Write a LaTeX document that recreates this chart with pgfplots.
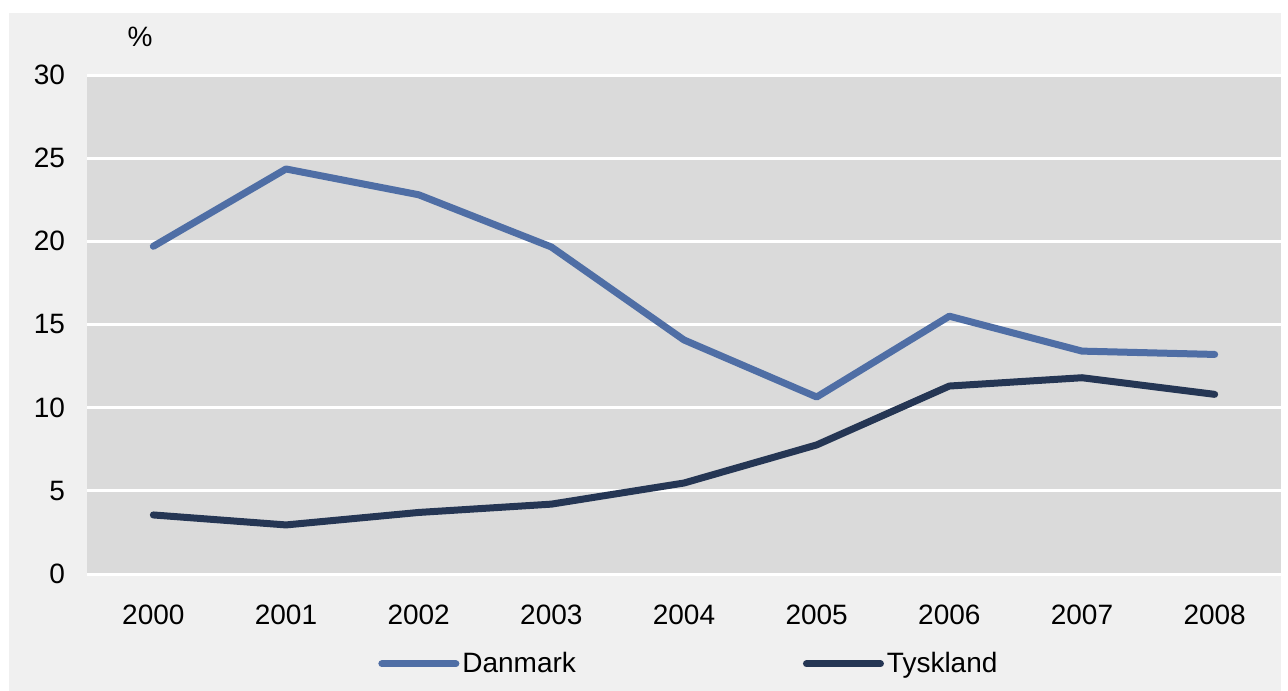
\documentclass[border=0pt]{standalone}
\usepackage{pgfplots}
\pgfplotsset{compat=1.18}
\usepackage{fontspec}
\setmainfont{Liberation Sans}
\definecolor{outerbg}{HTML}{F0F0F0}
\definecolor{plotbg}{HTML}{DADADA}
\definecolor{dk}{HTML}{4F6EA5}
\definecolor{ty}{HTML}{253654}
\begin{document}
\begin{tikzpicture}
\fill[white] (-43.5bp,-58.5bp) rectangle (600.5bp,287bp);
\fill[outerbg] (-39bp,-58.5bp) rectangle (597bp,280.5bp);
\begin{axis}[
  at={(0,0)}, anchor=south west,
  scale only axis, width=597bp, height=249.5bp,
  xmin=-0.5, xmax=8.5, ymin=0, ymax=30,
  xtick={0,...,8},
  xticklabels={2000,2001,2002,2003,2004,2005,2006,2007,2008},
  ytick={0,5,...,30},
  axis background/.style={fill=plotbg},
  axis line style={draw=none},
  major tick length=0pt,
  ymajorgrids, grid style={white, line width=1.5bp},
  tick label style={font=\fontsize{14bp}{16bp}\selectfont, text=black},
  /pgf/number format/assume math mode=true,
  yticklabel style={xshift=-7.5bp},
  xticklabel style={yshift=-12bp},
  clip=false,
  legend columns=2,
  legend style={draw=none, fill=none, at={(rel axis cs:0.2437,-0.18)}, anchor=west,
    font=\fontsize{14bp}{16bp}\selectfont,
    /tikz/every even column/.append style={column sep=112bp},
    inner sep=0pt, nodes={inner sep=1.5bp}},
  legend image code/.code={\draw[#1, line width=3.5bp, line cap=round] (1.75bp,0bp) -- (38.75bp,0bp);},
  legend cell align=left,
]
\addplot[dk, line width=3.5bp, line cap=round, line join=round] coordinates {
(0,19.7) (1,24.35) (2,22.8) (3,19.66) (4,14.07) (5,10.64) (6,15.5) (7,13.4) (8,13.2)};
\addlegendentry{Danmark}
\addplot[ty, line width=3.5bp, line cap=round, line join=round] coordinates {
(0,3.55) (1,2.95) (2,3.7) (3,4.2) (4,5.47) (5,7.76) (6,11.3) (7,11.8) (8,10.8)};
\addlegendentry{Tyskland}
\node[font=\fontsize{14bp}{16bp}\selectfont] at (rel axis cs:0.0444,1.076) {\%};
\end{axis}
\end{tikzpicture}
\end{document}
